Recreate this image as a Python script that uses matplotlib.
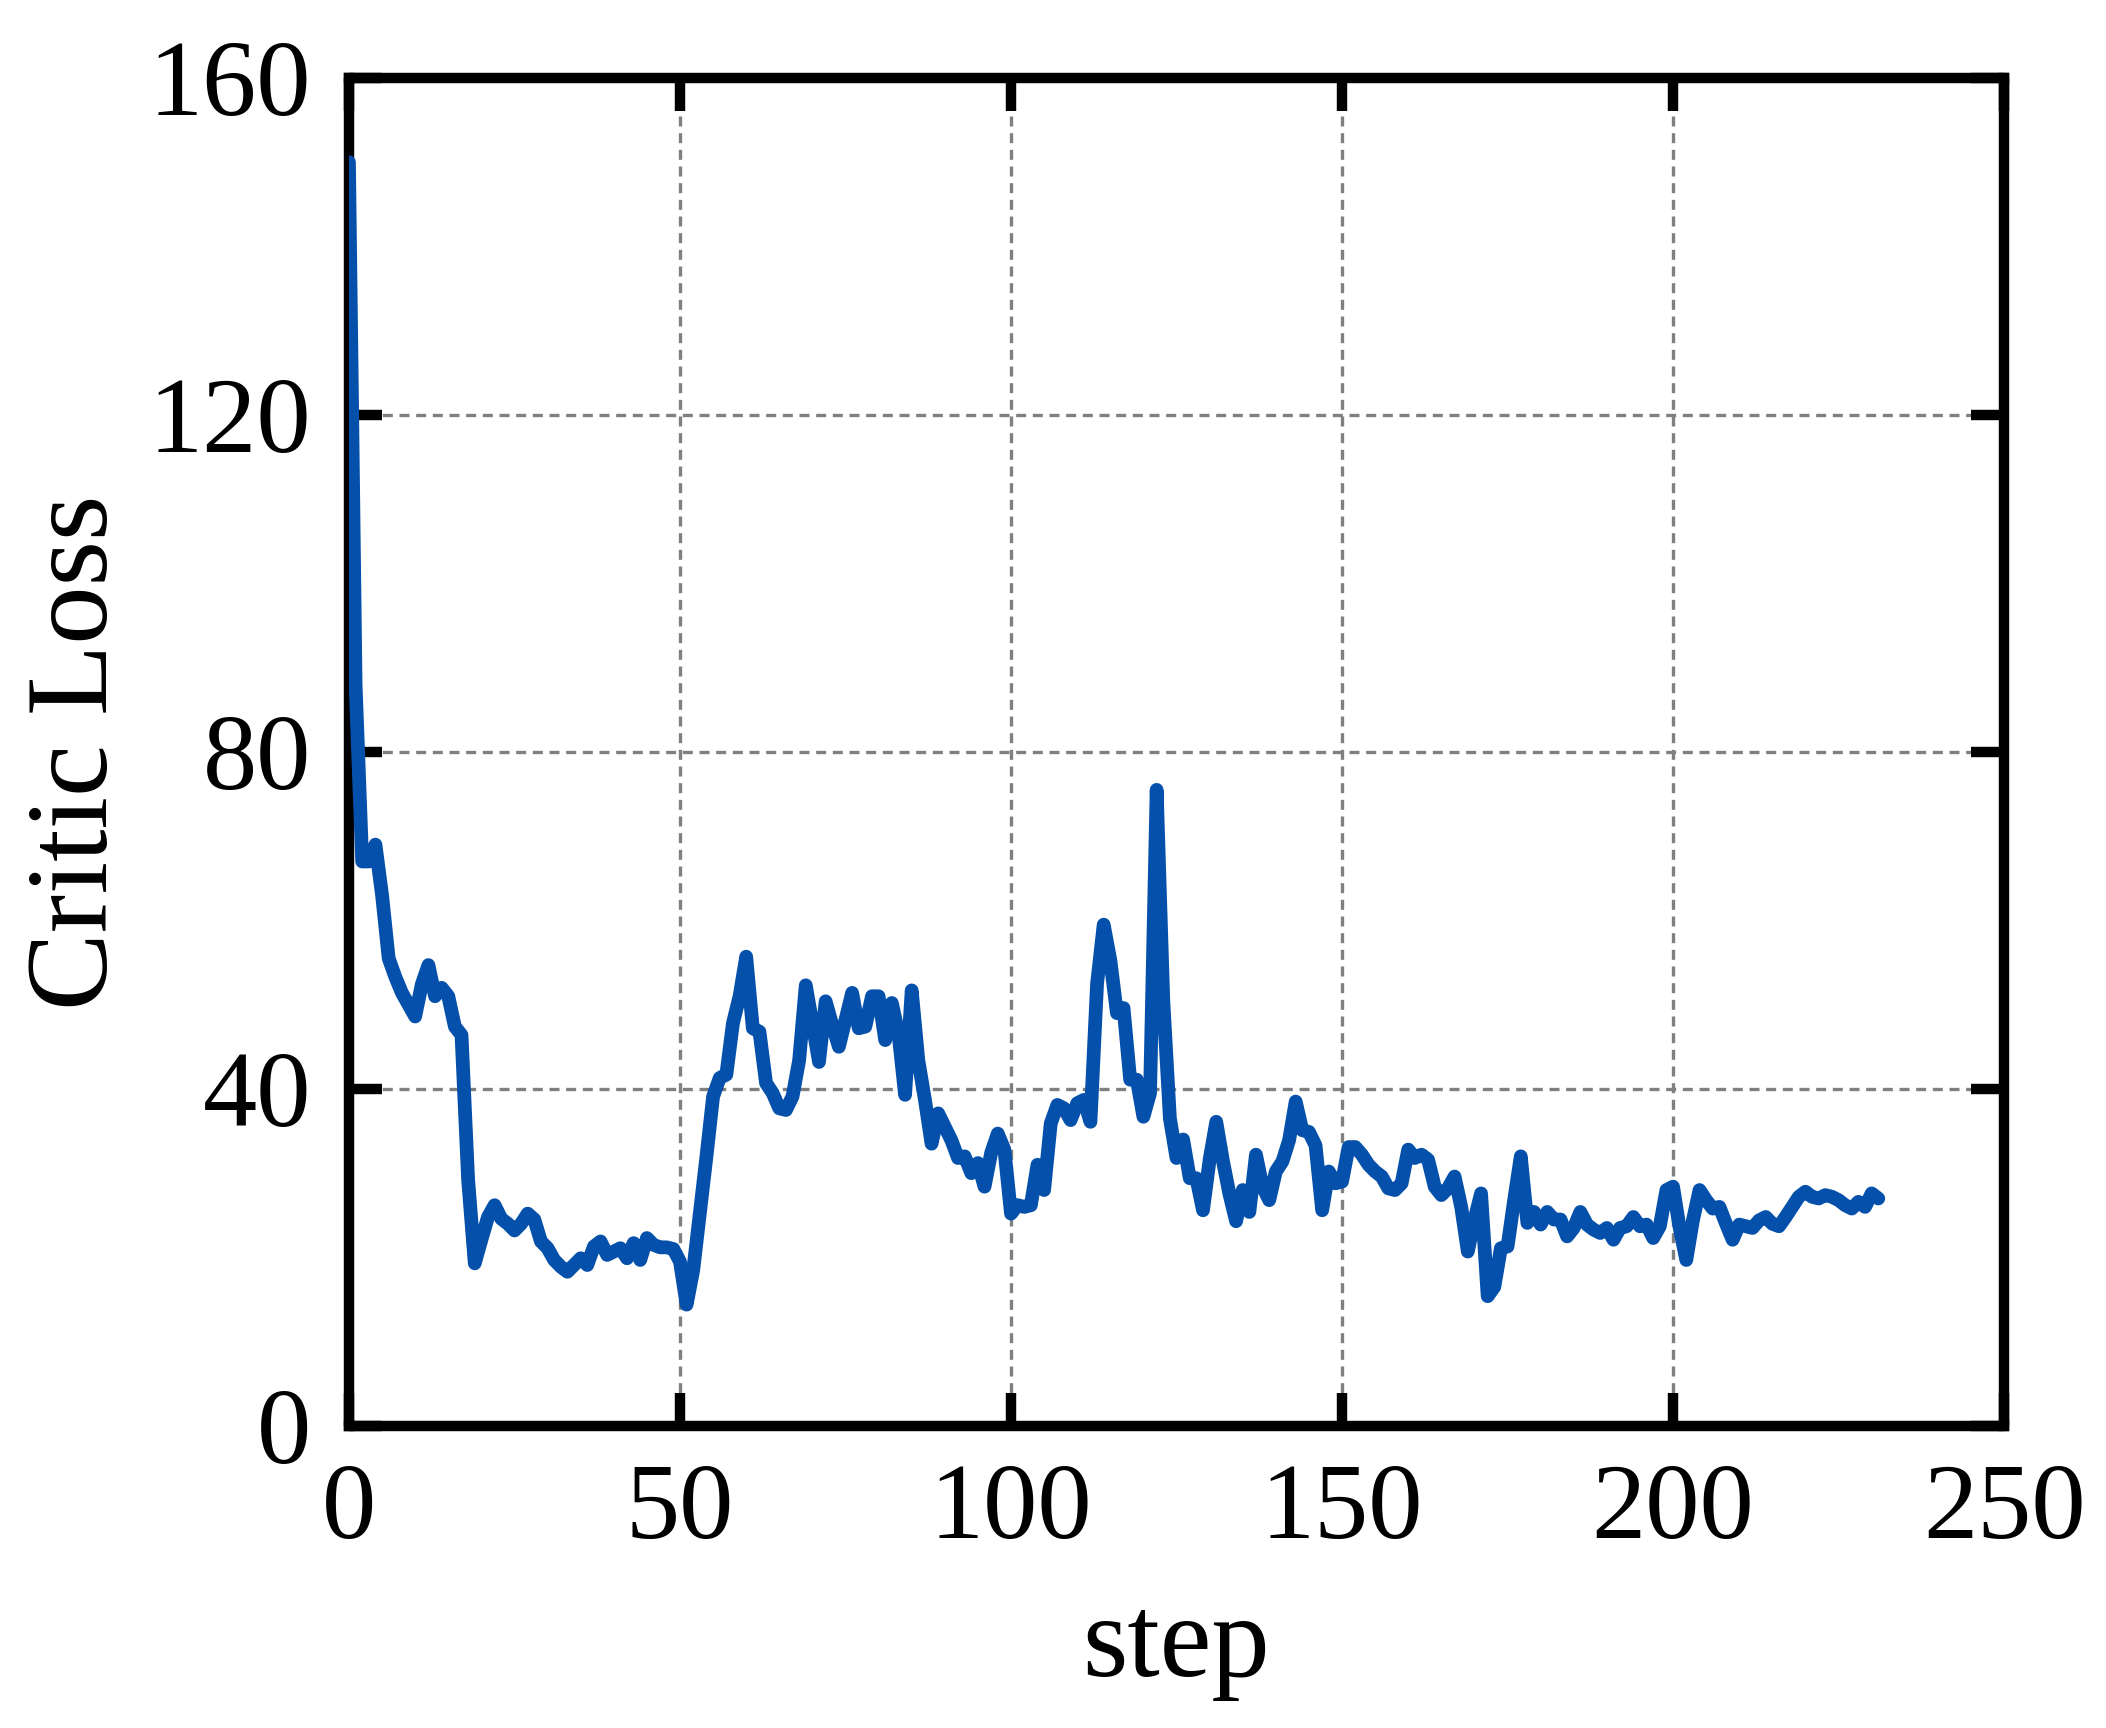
import matplotlib
matplotlib.use("Agg")
import matplotlib.pyplot as plt
import numpy as np

plt.rcParams['font.family'] = ['Liberation Serif', 'DejaVu Serif']

# critic loss per training step
critic_loss = [
    150.0, 88.0, 67.0, 67.0, 69.0, 63.0, 55.5, 53.3, 51.4, 50.0,
    48.6, 52.4, 54.7, 51.0, 52.0, 51.0, 47.4, 46.4, 29.2, 19.3,
    22.1, 24.8, 26.2, 24.6, 24.0, 23.2, 24.0, 25.2, 24.5, 21.9,
    21.1, 19.7, 18.9, 18.3, 19.1, 19.9, 19.1, 21.3, 21.9, 20.3,
    20.7, 21.1, 19.9, 21.7, 19.7, 22.3, 21.5, 21.2, 21.2, 21.0,
    19.5, 14.4, 18.5, 25.2, 32.0, 39.1, 41.3, 41.7, 47.8, 51.0,
    55.7, 47.2, 46.8, 40.7, 39.5, 37.7, 37.5, 39.1, 43.4, 52.3,
    47.8, 43.2, 50.4, 47.6, 45.0, 48.2, 51.4, 47.2, 47.4, 51.0,
    51.0, 45.8, 50.2, 46.6, 39.3, 51.7, 43.4, 38.7, 33.5, 37.1,
    35.5, 33.9, 31.8, 32.0, 30.0, 31.2, 28.4, 32.4, 34.7, 32.8,
    25.2, 26.2, 26.0, 26.2, 31.0, 28.0, 35.9, 38.1, 37.7, 36.3,
    38.3, 38.7, 36.1, 52.5, 59.5, 55.3, 49.0, 49.6, 41.1, 41.1,
    36.7, 39.5, 75.5, 50.5, 36.5, 31.8, 34.0, 29.4, 29.4, 25.6,
    31.6, 36.1, 31.5, 27.5, 24.3, 28.0, 25.4, 32.2, 28.4, 26.8,
    30.2, 31.4, 33.9, 38.5, 35.1, 34.9, 33.3, 25.6, 30.2, 28.8,
    29.0, 33.1, 33.1, 32.2, 31.0, 30.2, 29.6, 28.2, 28.0, 28.8,
    32.8, 31.8, 32.2, 31.6, 28.4, 27.4, 28.2, 29.6, 26.0, 20.7,
    24.5, 27.6, 15.4, 16.5, 21.1, 21.3, 26.8, 32.0, 24.1, 25.4,
    23.9, 25.4, 24.5, 24.5, 22.5, 23.5, 25.4, 23.9, 23.3, 22.9,
    23.5, 22.1, 23.5, 23.7, 24.8, 23.7, 23.9, 22.3, 23.7, 28.0,
    28.4, 23.5, 19.7, 24.4, 28.0, 26.8, 25.8, 26.0, 24.0, 22.1,
    23.9, 23.7, 23.5, 24.4, 24.8, 24.0, 23.7, 24.8, 26.0, 27.2,
    27.8, 27.2, 27.0, 27.4, 27.2, 26.8, 26.2, 25.8, 26.6, 26.0,
    27.6, 27.0,
]
steps = np.arange(len(critic_loss))

x_ticks = [0, 50, 100, 150, 200, 250]
y_ticks = [0, 40, 80, 120, 160]

fig = plt.figure(figsize=(7.02, 5.76), dpi=300)
ax = fig.add_axes([0.1657, 0.1748, 0.7859, 0.7801])

ax.plot(steps, critic_loss, color='#0550aa', linewidth=3.3, zorder=3,
        solid_capstyle='round', solid_joinstyle='round')

ax.set_xlim(0, 250)
ax.set_ylim(0, 160)
ax.set_xticks(x_ticks)
ax.set_yticks(y_ticks)

ax.grid(True, color='gray', linestyle=(0, (3, 2)), linewidth=0.8)
ax.set_axisbelow(True)

for sp in ax.spines.values():
    sp.set_linewidth(2.5)

ax.tick_params(direction='in', length=8, width=2.5, top=True, right=True,
               labelsize=26, pad=9)

ax.set_xlabel('step', fontsize=28, labelpad=8)
ax.set_ylabel('Critic Loss', fontsize=28, labelpad=4)

fig.savefig('out.png', dpi=300)
